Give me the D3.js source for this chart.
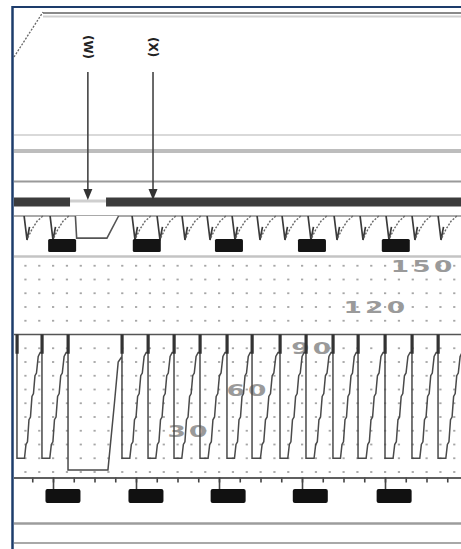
<!DOCTYPE html>
<html><head><meta charset="utf-8">
<script src="https://cdn.jsdelivr.net/npm/d3@7"></script>
<style>html,body{margin:0;padding:0;background:#fff;} svg{display:block;}</style>
</head><body><svg id="c" width="461" height="549"></svg>
<script>
// ---------- data (time in strip units, pressure in mmHg) ----------
const majorTicks = [1, 2, 3, 4, 5];
const minorTicks = d3.range(0, 6.01, 0.25);
const gridTimes = d3.range(0, 36).map(k => k / 6);
const gridPressures = [0, 10, 20, 30, 40, 50, 60, 70, 80, 90, 110, 120, 130, 140, 150];
const timeLabelTimes = [1.12, 2.12, 3.11, 4.10, 5.11];
const ecgLabelTimes = [1.11, 2.13, 3.12, 4.12, 5.13];
const pressureDrops = [0.566, 0.867, 1.181, 1.831, 2.145, 2.458, 2.771, 3.096, 3.398, 3.735, 4.048, 4.373, 4.675, 5.0, 5.325, 5.639, 5.952, 6.27];
const beatTypes = ["n", "n", "pause", "n", "n", "n", "n", "n", "n", "n", "n", "n", "n", "n", "n", "n", "n"];
const normalCycle = [[0, 100], [0, 10], [0.30, 10], [0.36, 20], [0.42, 22], [0.48, 38], [0.54, 40], [0.60, 55], [0.66, 57], [0.72, 70], [0.78, 72], [0.85, 84], [0.93, 87], [1, 87], [1, 100]];
const pauseCycle = [[0, 100], [0, 1.5], [0.74, 1.5], [0.86, 50], [0.93, 80], [1, 84], [1, 100]];
const ecgSpikes = [0.687, 1.0, 1.988, 2.289, 2.590, 2.892, 3.193, 3.494, 3.795, 4.108, 4.422, 4.735, 5.048, 5.361, 5.675, 5.99];
const ecgPause = [[1.27, 0], [1.285, -0.92], [1.65, -0.92], [1.79, 0]];
const scaleLabels = ["150", "120", "90", "60", "30"];
const scaleValues = [150, 120, 90, 60, 30];
const scaleLabelTimes = [5.46, 4.89, 4.13, 3.35, 2.64];
const markerLabels = ["(W)", "(X)"];
const markerTimes = [1.42, 2.205];
const barGap = [1.205, 1.639];

// ---------- scales ----------
const svg = d3.select("#c");
const x = d3.scaleLinear().domain([0, 6]).range([-30, 468]);
const yP = d3.scaleLinear().domain([0, 150]).range([472, 265.75]);
const yE = d3.scaleLinear().domain([-1, 0]).range([240, 216]);

svg.append("defs").append("clipPath").attr("id", "cl")
  .append("rect").attr("x", 14).attr("y", 0).attr("width", 447).attr("height", 549);
const g = svg.append("g").attr("clip-path", "url(#cl)");

// ---------- top decorations ----------
g.append("line").attr("x1", 43).attr("x2", 461).attr("y1", 13).attr("y2", 13).attr("stroke", "#8a8a8a").attr("stroke-width", 2);
g.append("line").attr("x1", 43).attr("x2", 461).attr("y1", 16.5).attr("y2", 16.5).attr("stroke", "#cfcfcf").attr("stroke-width", 2);
svg.append("line").attr("x1", 14).attr("y1", 57).attr("x2", 43).attr("y2", 12).attr("stroke", "#666").attr("stroke-width", 1.3).attr("stroke-dasharray", "2,1.5");
[[135, "#cdcdcd", 1.5], [151, "#bdbdbd", 4], [181.5, "#9a9a9a", 2]].forEach(([yy, c, w]) =>
  g.append("line").attr("x1", 14).attr("x2", 461).attr("y1", yy).attr("y2", yy).attr("stroke", c).attr("stroke-width", w));

// dark bar with gap
g.append("line").attr("x1", x(barGap[0])).attr("x2", x(barGap[1])).attr("y1", 201).attr("y2", 201).attr("stroke", "#cfcfcf").attr("stroke-width", 3);
g.append("rect").attr("x", 0).attr("y", 197.5).attr("width", x(barGap[0])).attr("height", 9).attr("fill", "#3c3c3c");
g.append("rect").attr("x", x(barGap[1])).attr("y", 197.5).attr("width", 461 - x(barGap[1])).attr("height", 9).attr("fill", "#3c3c3c");

// markers
markerLabels.forEach((lab, i) => {
  const mx = x(markerTimes[i]);
  svg.append("text").attr("transform", `translate(${mx - 4},${47}) rotate(90)`)
    .attr("text-anchor", "middle").attr("font-family", "DejaVu Sans").attr("font-weight", "bold")
    .attr("font-size", 12).attr("fill", "#222").text(lab);
  svg.append("line").attr("x1", mx).attr("x2", mx).attr("y1", 72).attr("y2", 191).attr("stroke", "#444").attr("stroke-width", 1.6);
  svg.append("path").attr("d", `M${mx - 4.5},${189}L${mx + 4.5},${189}L${mx},${200}Z`).attr("fill", "#333");
});

// ---------- ECG row ----------
g.append("line").attr("x1", 14).attr("x2", 461).attr("y1", yE(0)).attr("y2", yE(0)).attr("stroke", "#8c8c8c").attr("stroke-width", 1.6);
const lineE = d3.line().x(d => x(d[0])).y(d => yE(d[1]));
ecgSpikes.forEach(t => {
  g.append("path").attr("d", lineE([[t - 0.035, 0], [t, -1], [t + 0.03, -0.45]]))
    .attr("fill", "none").attr("stroke", "#3a3a3a").attr("stroke-width", 1.7);
  g.append("path").attr("d", lineE([[t + 0.01, -0.9], [t + 0.06, -0.55], [t + 0.12, -0.22], [t + 0.19, 0]]))
    .attr("fill", "none").attr("stroke", "#666").attr("stroke-width", 1.4).attr("stroke-dasharray", "2,1.5");
});
g.append("path").attr("d", lineE(ecgPause)).attr("fill", "#fff").attr("stroke", "#555").attr("stroke-width", 1.6);
ecgLabelTimes.forEach(t => {
  g.append("rect").attr("x", x(t) - 14).attr("y", 239).attr("width", 28).attr("height", 13).attr("rx", 1.5).attr("fill", "#141414");
});
g.append("line").attr("x1", 14).attr("x2", 461).attr("y1", 256.5).attr("y2", 256.5).attr("stroke", "#c4c4c4").attr("stroke-width", 2.5);

// ---------- dot grid ----------
const dots = [];
gridTimes.forEach(t => gridPressures.forEach(v => dots.push([t, v])));
g.append("g").selectAll("rect").data(dots).join("rect")
  .attr("x", d => x(d[0]) - 1).attr("y", d => yP(d[1]) - 0.9).attr("width", 2.2).attr("height", 1.8)
  .attr("fill", "#a6a6a6");

// scale labels (wide, stretched glyphs)
scaleLabels.forEach((s, i) => {
  g.append("text")
    .attr("transform", `translate(${x(scaleLabelTimes[i])},${yP(scaleValues[i]) + 6}) scale(1.65,1)`)
    .attr("text-anchor", "middle").attr("font-family", "DejaVu Sans").attr("font-weight", "bold")
    .attr("font-size", 16).attr("letter-spacing", 2).attr("fill", "#9a9a9a").text(s);
});

// top line of pressure zone
g.append("line").attr("x1", 14).attr("x2", 461).attr("y1", yP(100)).attr("y2", yP(100)).attr("stroke", "#555").attr("stroke-width", 1.6);

// ---------- pressure waveform ----------
const lineP = d3.line().x(d => x(d[0])).y(d => yP(d[1]));
const pts = [];
for (let i = 0; i < pressureDrops.length - 1; i++) {
  const t0 = pressureDrops[i], t1 = pressureDrops[i + 1];
  const tpl = beatTypes[i] === "pause" ? pauseCycle : normalCycle;
  tpl.forEach(([f, v]) => pts.push([t0 + f * (t1 - t0), v]));
}
g.append("path").attr("d", lineP(pts)).attr("fill", "none").attr("stroke", "#4a4a4a").attr("stroke-width", 1.5);
pressureDrops.forEach(t => {
  g.append("rect").attr("x", x(t) - 1.5).attr("y", yP(100)).attr("width", 3.2).attr("height", yP(86) - yP(100)).attr("fill", "#333");
});

// ---------- time axis ----------
const axY = 477.5;
const axMinor = d3.axisBottom(x).tickValues(minorTicks).tickSize(5).tickSizeOuter(0).tickFormat("");
const axMajor = d3.axisBottom(x).tickValues(majorTicks).tickSize(12).tickSizeOuter(0).tickFormat("");
const a1 = g.append("g").attr("transform", `translate(0,${axY})`).call(axMinor);
const a2 = g.append("g").attr("transform", `translate(0,${axY})`).call(axMajor);
[a1, a2].forEach(a => {
  a.select(".domain").attr("stroke", "#555").attr("stroke-width", 1.6);
  a.selectAll(".tick line").attr("stroke", "#444").attr("stroke-width", 1.6);
});
timeLabelTimes.forEach(t => {
  g.append("rect").attr("x", x(t) - 17.5).attr("y", 489).attr("width", 35).attr("height", 14).attr("rx", 2).attr("fill", "#111");
});

// bottom lines
g.append("line").attr("x1", 14).attr("x2", 461).attr("y1", 523.5).attr("y2", 523.5).attr("stroke", "#9c9c9c").attr("stroke-width", 2.5);
g.append("line").attr("x1", 14).attr("x2", 461).attr("y1", 543).attr("y2", 543).attr("stroke", "#a8a8a8").attr("stroke-width", 2);

// ---------- frame ----------
svg.append("line").attr("x1", 12).attr("x2", 461).attr("y1", 7).attr("y2", 7).attr("stroke", "#1d3c6b").attr("stroke-width", 2);
svg.append("line").attr("x1", 12.5).attr("x2", 12.5).attr("y1", 6).attr("y2", 549).attr("stroke", "#1d3c6b").attr("stroke-width", 2.5);
</script></body></html>
